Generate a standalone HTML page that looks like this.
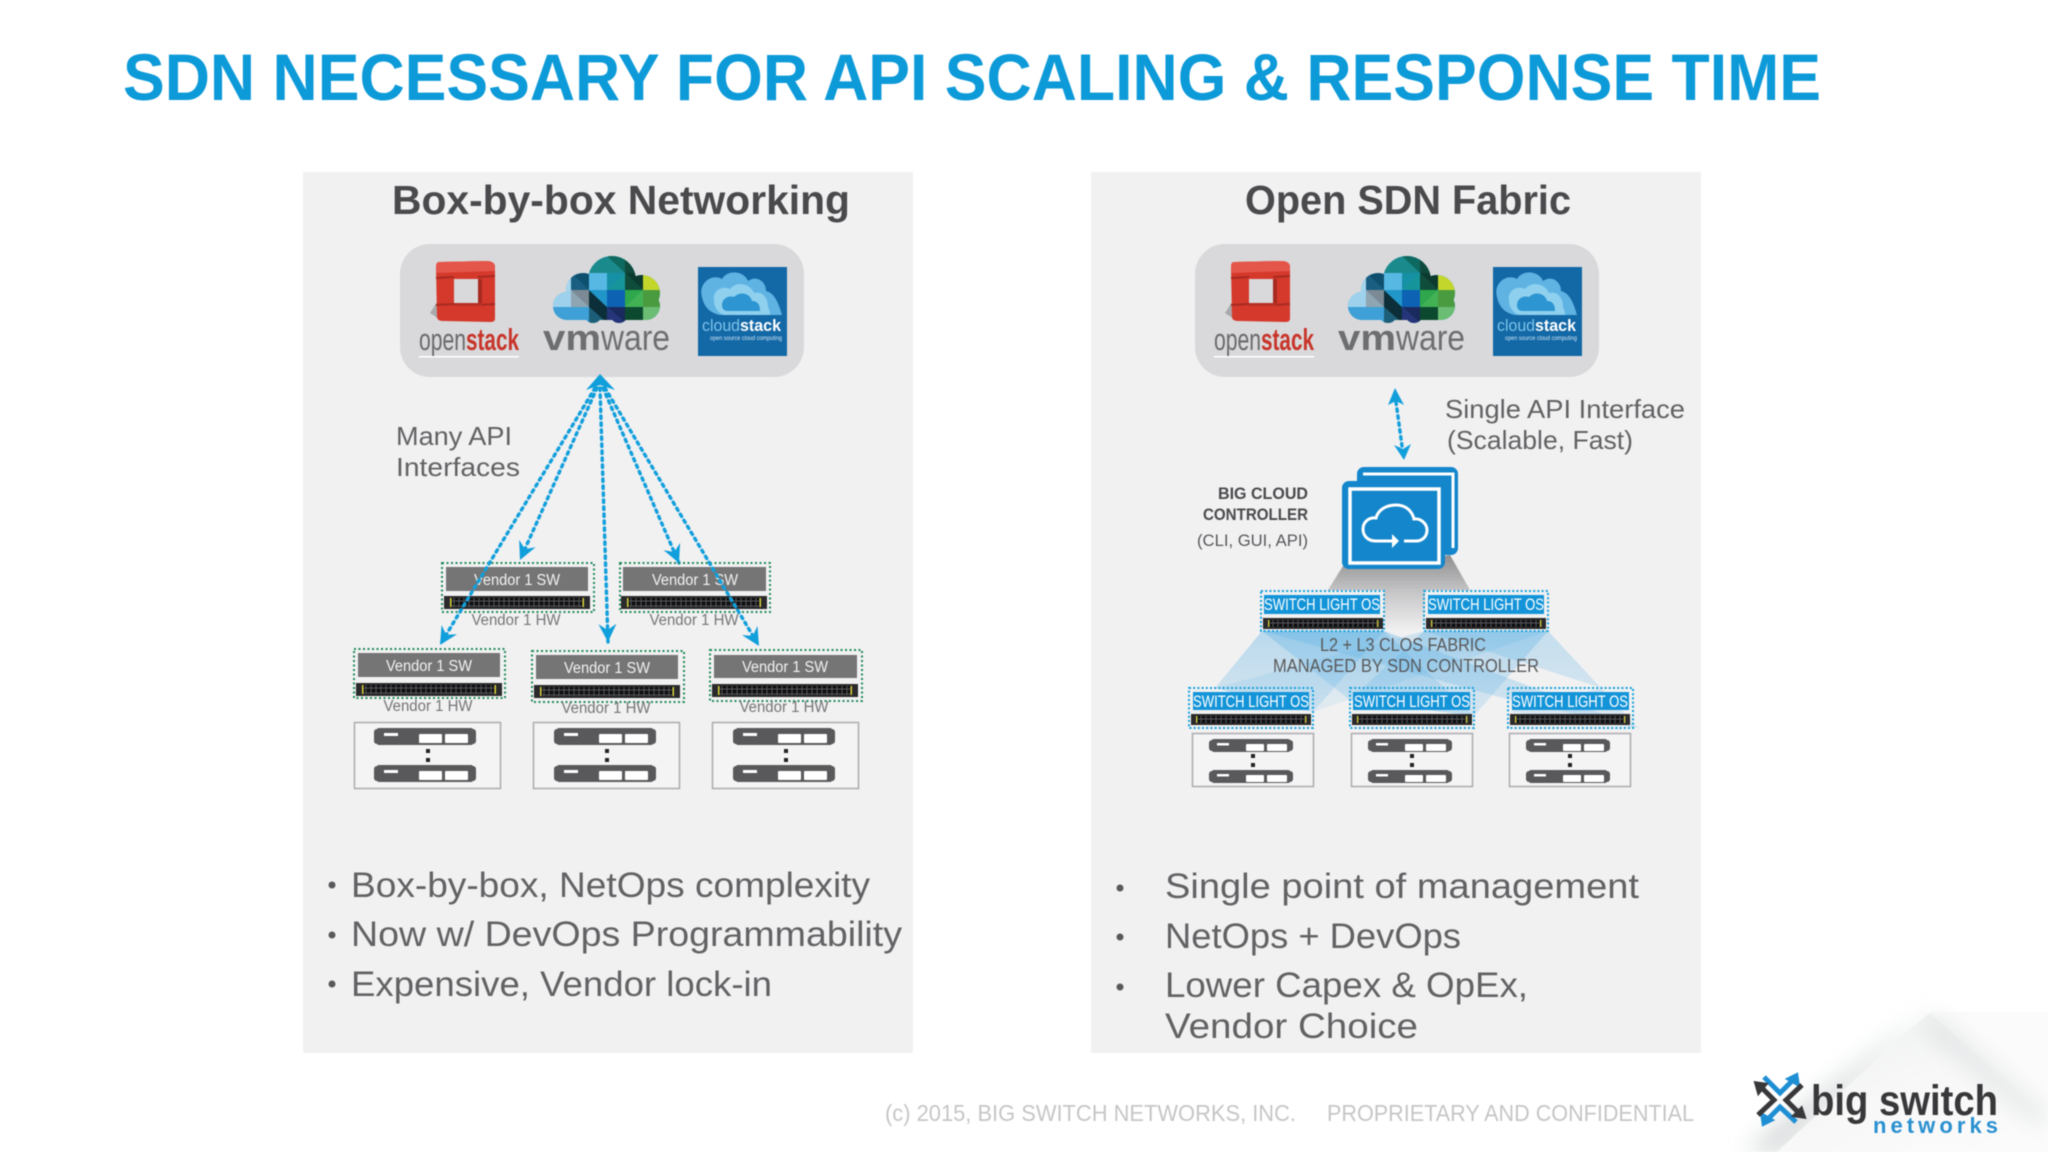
<!DOCTYPE html>
<html><head><meta charset="utf-8"><title>SDN Necessary for API Scaling &amp; Response Time</title>
<style>
html,body{margin:0;padding:0;background:#fff}
svg{display:block;width:2048px;height:1152px;filter:blur(.4px)}
text{font-family:"Liberation Sans",sans-serif}
.b{fill:#626264;font-size:35px}
.m{fill:#626264;font-size:26px}
.sw{fill:#f2f2f2;font-size:15.500px;text-anchor:middle}
.hw{fill:#757577;font-size:15.500px;text-anchor:middle}
.os{fill:#fff;font-size:17px}
.h{fill:#4a4a4d;font-size:41px;font-weight:bold}
</style></head><body>
<svg xmlns="http://www.w3.org/2000/svg" viewBox="0 0 2048 1152" width="2048" height="1152">
<defs>
<marker id="ah" markerUnits="userSpaceOnUse" markerWidth="24" markerHeight="24" viewBox="-20 -12 24 24" refX="0" refY="0" orient="auto"><path d="M-18,-9 L0,0 L-18,9 L-12,0 Z" fill="#119fdc"/></marker>
<pattern id="ports" width="5" height="5" patternUnits="userSpaceOnUse"><rect width="5" height="5" fill="#55565a"/><rect x=".5" y=".5" width="4" height="4" fill="#101012"/></pattern>
<g id="st"><rect width="146" height="13" fill="#2a2a2c"/><rect x="8" y="2" width="130" height="9" fill="url(#ports)"/><rect x="6" y="2" width="1.500" height="9" fill="#d6cf3a"/><rect x="138.500" y="2" width="1.500" height="9" fill="#d6cf3a"/></g>
<g id="str"><rect width="120" height="11" fill="#2a2a2c"/><rect x="7" y="2" width="106" height="7" fill="url(#ports)"/><rect x="5" y="2" width="1.300" height="7" fill="#d6cf3a"/><rect x="114" y="2" width="1.300" height="7" fill="#d6cf3a"/></g>
<g id="srv"><rect x="0" y="1" width="102" height="15" rx="3" fill="#59595c"/><rect x="3" y="0" width="96" height="17" rx="2" fill="#59595c"/><rect x="10" y="5" width="14" height="3" fill="#fff"/><rect x="45" y="6" width="23" height="9" rx="1" fill="#fff"/><rect x="71" y="6" width="23" height="9" rx="1" fill="#fff"/></g>
<g id="srvr"><rect x="0" y="1" width="84" height="11" rx="3" fill="#59595c"/><rect x="3" y="0" width="78" height="13" rx="2" fill="#59595c"/><rect x="8" y="4" width="12" height="2.500" fill="#fff"/><rect x="37" y="5" width="18" height="7" rx="1" fill="#fff"/><rect x="58" y="5" width="20" height="7" rx="1" fill="#fff"/></g>
<clipPath id="vc"><circle cx="59" cy="24" r="24"/><circle cx="30" cy="34" r="17"/><circle cx="89" cy="37" r="18"/><circle cx="14" cy="50" r="14"/><circle cx="93" cy="50" r="14"/><rect x="14" y="36" width="80" height="28"/><circle cx="40" cy="58" r="9"/><circle cx="66" cy="58" r="9"/></clipPath>
<g id="vm"><g clip-path="url(#vc)">
<rect width="107" height="67" fill="#2a9fd6"/>
<rect x="0" y="0" width="36" height="17" fill="#7ec6c8"/>
<polygon points="36,0 72,0 72,17 36,17" fill="#1a8a8c"/><polygon points="54,0 72,0 72,17" fill="#0e6a60"/><rect x="72" y="0" width="35" height="17" fill="#0f4a3c"/>
<polygon points="18,17 36,17 36,34" fill="#0f4f6e"/><polygon points="18,17 36,34 18,34" fill="#1a5f82"/><rect x="36" y="17" width="18" height="17" fill="#58b8e4"/><polygon points="54,17 72,17 54,34" fill="#1590a4"/><polygon points="72,17 72,34 54,34" fill="#16969a"/><polygon points="72,17 90,17 90,34" fill="#0c3a2c"/><polygon points="72,17 90,34 72,34" fill="#104c3a"/><rect x="90" y="17" width="17" height="20" fill="#c3d62c"/><rect x="0" y="17" width="18" height="17" fill="#a5d6ee"/>
<rect x="0" y="34" width="18" height="17" fill="#9ed2ec"/><polygon points="18,34 36,34 36,51" fill="#7b8a94"/><polygon points="18,34 36,51 18,51" fill="#8fa5b2"/><polygon points="36,34 54,51 36,51" fill="#0c2e38"/><polygon points="36,34 54,34 54,51" fill="#2196c8"/><rect x="54" y="34" width="18" height="17" fill="#0d62b4"/><polygon points="72,34 90,34 72,51" fill="#2ea84a"/><polygon points="90,34 90,51 72,51" fill="#43b254"/><rect x="90" y="34" width="17" height="17" fill="#4a9a40"/>
<rect x="0" y="51" width="36" height="16" fill="#3ea0d6"/><polygon points="36,51 54,51 54,67" fill="#0c2e38"/><polygon points="36,51 54,67 36,67" fill="#1d5f78"/><polygon points="54,51 72,51 72,67" fill="#1a2a5e"/><polygon points="54,51 72,67 54,67" fill="#26357a"/><rect x="72" y="51" width="18" height="16" fill="#0c4a30"/><rect x="90" y="51" width="17" height="16" fill="#6abd72"/>
</g></g>
<g id="osk">
<polygon points="-6,52 3,38 3,58" fill="#a9a9ab"/>
<path d="M3,1 L50,0 Q59,0 59,6 L59,58 Q59,61 54,61 L8,60 Q1,60 1,56 L0,6 Q0,1 3,1Z" fill="#d5392b"/>
<path d="M3,1 L50,0 Q59,0 59,6 L59,10 L0,12 L0,6 Q0,1 3,1Z" fill="#e5564a"/>
<path d="M0,17 L18,16 M0,44 L18,43 M42,16 L59,15 M42,44 L59,43" stroke="#a62a20" stroke-width="2"/>
<rect x="18" y="18" width="24" height="24" fill="#d9d9db"/>
<rect x="42" y="18" width="4" height="24" fill="#a62a20"/>
<rect x="18" y="42" width="28" height="3" fill="#b93024"/>
<text x="-17" y="89" font-size="31" fill="#6a6a6c" textLength="47" lengthAdjust="spacingAndGlyphs">open</text>
<text x="30" y="89" font-size="31" fill="#c8352a" font-weight="bold" textLength="53" lengthAdjust="spacingAndGlyphs">stack</text>
<rect x="-17" y="95" width="100" height="1.500" fill="#fff"/>
</g>
<g id="cs">
<rect width="89" height="89" fill="#1368a6"/>
<path d="M4,30 C0,16 14,6 24,12 C30,2 46,4 50,14 C58,8 68,14 68,24 C76,26 80,34 84,48 H22 C12,46 6,40 4,30Z" fill="#5fb3e3"/>
<path d="M16,34 C14,24 24,18 32,22 C38,14 52,16 56,26 C64,24 70,30 70,40 C72,44 72,46 72,48 H26 C20,46 16,40 16,34Z" fill="#8fd0ee"/>
<path d="M24,38 C24,32 30,28 36,30 C42,24 52,26 54,34 C60,34 62,38 62,44 H30 C26,44 24,42 24,38Z" fill="#2c95d2"/>
<text x="4" y="64" font-size="17" fill="#7cc4ec" textLength="38" lengthAdjust="spacingAndGlyphs">cloud</text>
<text x="42" y="64" font-size="17" font-weight="bold" fill="#fff" textLength="41" lengthAdjust="spacingAndGlyphs">stack</text>
<text x="12" y="73" font-size="6" fill="#cfe6f5" textLength="72" lengthAdjust="spacingAndGlyphs">open source cloud computing</text>
</g>
<g id="logos"><use href="#osk" x="36" y="17"/><use href="#vm" x="153" y="12"/>
<text x="143" y="106" font-size="36" font-weight="bold" fill="#6d6e70" textLength="58" lengthAdjust="spacingAndGlyphs">vm</text>
<text x="201" y="106" font-size="36" fill="#6d6e70" textLength="69" lengthAdjust="spacingAndGlyphs">ware</text>
<use href="#cs" x="298" y="23"/></g>
<linearGradient id="gs" x1="0" y1="0" x2="0" y2="1"><stop offset="0" stop-color="#8f8f90"/><stop offset=".5" stop-color="#c7c7c8"/><stop offset="1" stop-color="#f1f1f2"/></linearGradient>
<linearGradient id="bs" x1="0" y1="0" x2="0" y2="1"><stop offset="0" stop-color="#6db8e6" stop-opacity=".42"/><stop offset="1" stop-color="#6db8e6" stop-opacity=".2"/></linearGradient>
<linearGradient id="cf" x1="0" y1="0" x2="1" y2="1"><stop offset="0" stop-color="#eceeee"/><stop offset=".5" stop-color="#f8f8f8"/><stop offset="1" stop-color="#fcfcfc"/></linearGradient>
<filter id="soft" x="-30%" y="-30%" width="160%" height="160%"><feGaussianBlur stdDeviation="12"/></filter>
</defs>

<rect width="2048" height="1152" fill="#fff"/>
<!-- corner fold -->
<rect x="1930" y="1012" width="118" height="140" fill="#fbfbfb"/>
<polygon points="1745,1152 1905,1030 1925,1018 1780,1152" fill="#cfd2d3" filter="url(#soft)"/>
<polygon points="1930,1013 2048,1117 2048,1152 1930,1152" fill="#fbfbfb"/>
<polygon points="1777,1152 1905,1033 1930,1013 2048,1117 2048,1152" fill="url(#cf)"/>
<polygon points="1930,1013 2048,1117 2040,1125 1925,1030" fill="#d6d9da" filter="url(#soft)" opacity=".8"/>

<text x="123" y="100" font-size="66" font-weight="bold" fill="#0d9ad8" textLength="1698" lengthAdjust="spacingAndGlyphs">SDN NECESSARY FOR API SCALING &amp; RESPONSE TIME</text>

<!-- Panels -->
<rect x="303" y="172" width="610" height="881" fill="#f1f1f2"/>
<rect x="1091" y="172" width="610" height="881" fill="#f1f1f2"/>

<!-- LEFT -->
<text class="h" x="392" y="214" textLength="458" lengthAdjust="spacingAndGlyphs">Box-by-box Networking</text>
<rect x="400" y="244" width="404" height="133" rx="30" fill="#d9d9db"/>
<use href="#logos" x="400" y="244"/>

<text class="m" x="396" y="445" textLength="116" lengthAdjust="spacingAndGlyphs">Many API</text>
<text class="m" x="396" y="476" textLength="124" lengthAdjust="spacingAndGlyphs">Interfaces</text>

<g fill="none" stroke="#119fdc" stroke-width="3.400" stroke-dasharray="2.500 4.500" stroke-linecap="round">
<line x1="597" y1="388" x2="520" y2="560" marker-end="url(#ah)"/>
<line x1="600" y1="388" x2="608" y2="642" marker-end="url(#ah)"/>
<line x1="603" y1="388" x2="679" y2="563" marker-end="url(#ah)"/>
</g>
<polygon points="600,374 615,390 600,385 586,390" fill="#119fdc"/>

<g fill="none" stroke="#1d8a57" stroke-width="2" stroke-dasharray="2 2.500">
<rect x="442" y="563" width="152" height="49"/><rect x="620" y="563" width="150" height="49"/>
<rect x="354" y="649" width="151" height="49"/><rect x="532" y="651" width="152" height="51"/><rect x="710" y="650" width="152" height="51"/>
</g>
<g fill="#757576">
<rect x="446" y="567" width="142" height="24"/><rect x="623" y="567" width="143" height="24"/>
<rect x="358" y="653" width="142" height="24"/><rect x="536" y="655" width="142" height="24"/><rect x="714" y="655" width="143" height="23"/>
</g>
<use href="#st" x="444" y="596"/><use href="#st" x="621" y="596"/>
<use href="#st" x="356" y="683"/><use href="#st" x="534" y="685"/><use href="#st" x="712" y="684"/>

<g>
<text class="sw" x="517" y="585" textLength="86" lengthAdjust="spacingAndGlyphs">Vendor 1 SW</text>
<text class="sw" x="695" y="585" textLength="86" lengthAdjust="spacingAndGlyphs">Vendor 1 SW</text>
<text class="sw" x="429" y="671" textLength="86" lengthAdjust="spacingAndGlyphs">Vendor 1 SW</text>
<text class="sw" x="607" y="673" textLength="86" lengthAdjust="spacingAndGlyphs">Vendor 1 SW</text>
<text class="sw" x="785" y="672" textLength="86" lengthAdjust="spacingAndGlyphs">Vendor 1 SW</text>
<text class="hw" x="516" y="625" textLength="89" lengthAdjust="spacingAndGlyphs">Vendor 1 HW</text>
<text class="hw" x="694" y="625" textLength="89" lengthAdjust="spacingAndGlyphs">Vendor 1 HW</text>
<text class="hw" x="428" y="711" textLength="89" lengthAdjust="spacingAndGlyphs">Vendor 1 HW</text>
<text class="hw" x="606" y="713" textLength="89" lengthAdjust="spacingAndGlyphs">Vendor 1 HW</text>
<text class="hw" x="784" y="712" textLength="89" lengthAdjust="spacingAndGlyphs">Vendor 1 HW</text>
</g>

<g fill="none" stroke="#119fdc" stroke-width="3.400" stroke-dasharray="2.500 4.500" stroke-linecap="round">
<line x1="595" y1="388" x2="440" y2="645" marker-end="url(#ah)"/>
<line x1="605" y1="388" x2="759" y2="646" marker-end="url(#ah)"/>
</g>

<g fill="#f4f4f5" stroke="#ababad" stroke-width="1.500">
<rect x="354.500" y="722.500" width="146" height="66"/><rect x="533.500" y="722.500" width="146" height="66"/><rect x="712.500" y="722.500" width="146" height="66"/>
</g>
<use href="#srv" x="374" y="728"/><use href="#srv" x="374" y="765"/><rect x="426" y="749" width="4" height="4" fill="#222"/><rect x="426" y="758" width="4" height="4" fill="#222"/>
<use href="#srv" x="554" y="728"/><use href="#srv" x="554" y="765"/><rect x="605" y="749" width="4" height="4" fill="#222"/><rect x="605" y="758" width="4" height="4" fill="#222"/>
<use href="#srv" x="733" y="728"/><use href="#srv" x="733" y="765"/><rect x="784" y="749" width="4" height="4" fill="#222"/><rect x="784" y="758" width="4" height="4" fill="#222"/>

<g>
<circle cx="332" cy="885" r="3.500" fill="#58595b"/><circle cx="332" cy="935" r="3.500" fill="#58595b"/><circle cx="332" cy="984" r="3.500" fill="#58595b"/>
<text class="b" x="351" y="897" textLength="519" lengthAdjust="spacingAndGlyphs">Box-by-box, NetOps complexity</text>
<text class="b" x="351" y="946" textLength="551" lengthAdjust="spacingAndGlyphs">Now w/ DevOps Programmability</text>
<text class="b" x="351" y="996" textLength="421" lengthAdjust="spacingAndGlyphs">Expensive, Vendor lock-in</text>
</g>

<!-- RIGHT -->
<text class="h" x="1245" y="214" textLength="326" lengthAdjust="spacingAndGlyphs">Open SDN Fabric</text>
<rect x="1195" y="244" width="404" height="133" rx="30" fill="#d9d9db"/>
<use href="#logos" x="1195" y="244"/>

<line x1="1396" y1="402" x2="1402" y2="446" stroke="#119fdc" stroke-width="3.400" stroke-dasharray="2.500 4.500" stroke-linecap="round"/>
<polygon points="1395,388 1404,405 1396,401 1388,405" fill="#119fdc"/>
<polygon points="1404,460 1394,445 1403,449 1411,444" fill="#119fdc"/>

<text class="m" x="1445" y="418" textLength="240" lengthAdjust="spacingAndGlyphs">Single API Interface</text>
<text class="m" x="1447" y="449" textLength="186" lengthAdjust="spacingAndGlyphs">(Scalable, Fast)</text>

<text x="1308" y="499" font-size="17" font-weight="bold" fill="#4a4a4d" text-anchor="end" textLength="90" lengthAdjust="spacingAndGlyphs">BIG CLOUD</text>
<text x="1308" y="520" font-size="17" font-weight="bold" fill="#4a4a4d" text-anchor="end" textLength="105" lengthAdjust="spacingAndGlyphs">CONTROLLER</text>
<text x="1308" y="546" font-size="17" fill="#58595b" text-anchor="end" textLength="111" lengthAdjust="spacingAndGlyphs">(CLI, GUI, API)</text>

<polygon points="1343,566 1384,566 1450,555 1470,590 1425,590 1425,631 1384,631 1384,590 1328,590" fill="url(#gs)"/>

<!-- blue fabric -->
<g fill="url(#bs)">
<polygon points="1262,631 1384,631 1313,712 1215,688"/>
<polygon points="1262,631 1384,631 1474,716 1350,700"/>
<polygon points="1262,631 1384,631 1640,728 1510,700"/>
<polygon points="1424,631 1548,631 1313,712 1215,688" opacity=".6"/>
<polygon points="1424,631 1548,631 1474,716 1350,700"/>
<polygon points="1424,631 1548,631 1638,728 1510,712 1602,688" opacity=".8"/>
</g>

<!-- controller icon -->
<rect x="1357" y="467" width="101" height="88" rx="7" fill="#1486cb"/>
<path d="M1363,474H1453V548" fill="none" stroke="#fff" stroke-width="3"/>
<rect x="1342" y="481" width="103" height="88" rx="7" fill="#1486cb"/>
<rect x="1350" y="489" width="89" height="74" fill="none" stroke="#fff" stroke-width="3.500"/>
<path d="M1392,541H1376C1366,541 1363,534 1363,529C1363,522 1369,517 1376,518C1378,510 1386,505 1396,505C1406,505 1412,511 1414,519C1421,518 1427,524 1427,530C1427,537 1422,541 1416,541H1404" fill="none" stroke="#fff" stroke-width="3"/>
<polygon points="1392,534 1399,541 1392,548" fill="#fff"/>

<!-- switches -->
<g fill="none" stroke="#12a0dc" stroke-width="2" stroke-dasharray="2 2.200">
<rect x="1261" y="591" width="123" height="40"/><rect x="1424" y="591" width="124" height="40"/>
<rect x="1189" y="688" width="124" height="40"/><rect x="1350" y="688" width="124" height="40"/><rect x="1508" y="688" width="125" height="40"/>
</g>
<g fill="#1494d8">
<rect x="1264" y="595" width="116" height="19"/><rect x="1428" y="595" width="116" height="19"/>
<rect x="1193" y="692" width="116" height="18"/><rect x="1353" y="692" width="117" height="18"/><rect x="1512" y="692" width="117" height="18"/>
</g>
<use href="#str" x="1263" y="618"/><use href="#str" x="1426" y="618"/>
<use href="#str" x="1191" y="714"/><use href="#str" x="1352" y="714"/><use href="#str" x="1510" y="714"/>
<text class="os" x="1264" y="610" textLength="116" lengthAdjust="spacingAndGlyphs">SWITCH LIGHT OS</text>
<text class="os" x="1428" y="610" textLength="116" lengthAdjust="spacingAndGlyphs">SWITCH LIGHT OS</text>
<text class="os" x="1193" y="707" textLength="116" lengthAdjust="spacingAndGlyphs">SWITCH LIGHT OS</text>
<text class="os" x="1354" y="707" textLength="116" lengthAdjust="spacingAndGlyphs">SWITCH LIGHT OS</text>
<text class="os" x="1512" y="707" textLength="116" lengthAdjust="spacingAndGlyphs">SWITCH LIGHT OS</text>

<text x="1320" y="651" font-size="18" fill="#58595b" textLength="166" lengthAdjust="spacingAndGlyphs">L2 + L3 CLOS FABRIC</text>
<text x="1273" y="672" font-size="18" fill="#58595b" textLength="266" lengthAdjust="spacingAndGlyphs">MANAGED BY SDN CONTROLLER</text>

<g fill="#f4f4f5" stroke="#ababad" stroke-width="1.500">
<rect x="1192.500" y="733.500" width="121" height="53"/><rect x="1351.500" y="733.500" width="121" height="53"/><rect x="1509.500" y="733.500" width="121" height="53"/>
</g>
<use href="#srvr" x="1209" y="739"/><use href="#srvr" x="1209" y="770"/><rect x="1251" y="754" width="4" height="4" fill="#222"/><rect x="1251" y="763" width="4" height="4" fill="#222"/>
<use href="#srvr" x="1368" y="739"/><use href="#srvr" x="1368" y="770"/><rect x="1410" y="754" width="4" height="4" fill="#222"/><rect x="1410" y="763" width="4" height="4" fill="#222"/>
<use href="#srvr" x="1526" y="739"/><use href="#srvr" x="1526" y="770"/><rect x="1568" y="754" width="4" height="4" fill="#222"/><rect x="1568" y="763" width="4" height="4" fill="#222"/>

<circle cx="1120" cy="888" r="3.500" fill="#58595b"/><circle cx="1120" cy="937" r="3.500" fill="#58595b"/><circle cx="1120" cy="987" r="3.500" fill="#58595b"/>
<text class="b" x="1165" y="898" textLength="474" lengthAdjust="spacingAndGlyphs">Single point of management</text>
<text class="b" x="1165" y="948" textLength="296" lengthAdjust="spacingAndGlyphs">NetOps + DevOps</text>
<text class="b" x="1165" y="997" textLength="363" lengthAdjust="spacingAndGlyphs">Lower Capex &amp; OpEx,</text>
<text class="b" x="1165" y="1038" textLength="253" lengthAdjust="spacingAndGlyphs">Vendor Choice</text>

<!-- Footer -->
<text x="885" y="1121" font-size="23" fill="#c6c6c8" textLength="411" lengthAdjust="spacingAndGlyphs">(c) 2015, BIG SWITCH NETWORKS, INC.</text>
<text x="1327" y="1121" font-size="23" fill="#c6c6c8" textLength="367" lengthAdjust="spacingAndGlyphs">PROPRIETARY AND CONFIDENTIAL</text>

<!-- Big Switch logo -->
<g fill="none" stroke-width="5" stroke-linejoin="miter">
<path d="M1764,1077L1780,1093L1795,1078" stroke="#1f8fd4"/>
<polygon points="1796,1076 1797,1083 1790,1079" fill="#1f8fd4" stroke="#1f8fd4"/>
<path d="M1796,1122L1780,1107L1766,1121" stroke="#1f8fd4"/>
<polygon points="1764,1123 1763,1116 1770,1120" fill="#1f8fd4" stroke="#1f8fd4"/>
<path d="M1760,1086L1774,1100L1758,1115" stroke="#38383b"/>
<polygon points="1757,1084 1764,1085 1759,1091" fill="#38383b" stroke="#38383b"/>
<path d="M1800,1114L1786,1100L1802,1085" stroke="#38383b"/>
<polygon points="1803,1116 1796,1115 1801,1110" fill="#38383b" stroke="#38383b"/>
</g>
<text x="1811" y="1115" font-size="43" font-weight="bold" fill="#38383b" textLength="187" lengthAdjust="spacingAndGlyphs">big switch</text>
<text x="1873" y="1133" font-size="22" font-weight="bold" fill="#2a90d0" textLength="125" lengthAdjust="spacing">networks</text>
</svg>
</body></html>
